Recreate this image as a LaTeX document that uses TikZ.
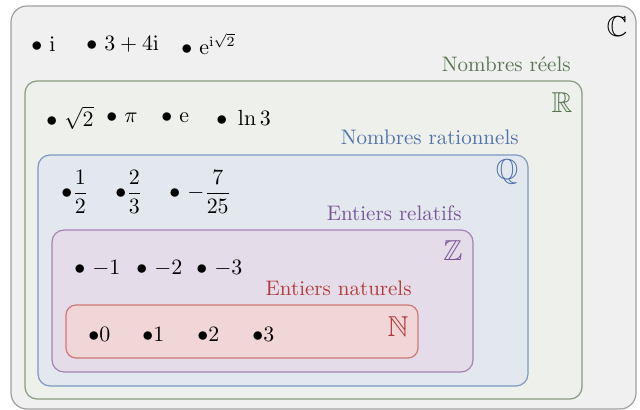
\documentclass[tikz,border=0pt]{standalone}
\usepackage{amsmath,amssymb}
\definecolor{cfill}{HTML}{F0F0F0}\definecolor{cdraw}{HTML}{A0A0A0}
\definecolor{rfill}{HTML}{EEF0EC}\definecolor{rdraw}{HTML}{8A9A80}\definecolor{rtext}{HTML}{5B7553}
\definecolor{qfill}{HTML}{E3E8EF}\definecolor{qdraw}{HTML}{7D98C0}\definecolor{qtext}{HTML}{4F72A8}
\definecolor{zfill}{HTML}{E4DCE8}\definecolor{zdraw}{HTML}{A583B5}\definecolor{ztext}{HTML}{7A5596}
\definecolor{nfill}{HTML}{F0D6D6}\definecolor{ndraw}{HTML}{D07878}\definecolor{ntext}{HTML}{B33A3A}
\begin{document}
\begin{tikzpicture}[x=0.5pt,y=-0.5pt,
  setbox/.style={line width=0.6pt},
  item/.style={anchor=west,inner sep=0pt,font=\fontsize{10.5}{12}\selectfont},
  setlabel/.style={anchor=east,inner sep=0pt,font=\fontsize{10.5}{12}\selectfont},
  setsym/.style={inner sep=0pt,font=\Large}]
\useasboundingbox (0,0) rectangle (640,410);
\path[setbox,fill=cfill,draw=cdraw,rounded corners=8pt] (11,6) rectangle (636,409);
\path[setbox,fill=rfill,draw=rdraw,rounded corners=6pt] (25,81) rectangle (582,399);
\path[setbox,fill=qfill,draw=qdraw,rounded corners=6pt] (38,155) rectangle (528,386);
\path[setbox,fill=zfill,draw=zdraw,rounded corners=6pt] (52,230) rectangle (473,372);
\path[setbox,fill=nfill,draw=ndraw,rounded corners=5pt] (66,305) rectangle (418,358);
% symbols
\node[setsym] (symC) at (617,27) {$\mathbb{C}$};
\node[setsym,text=rtext] (symR) at (562,103) {$\mathbb{R}$};
\node[setsym,text=qtext] (symQ) at (507,172) {$\mathbb{Q}$};
\node[setsym,text=ztext] (symZ) at (453,251) {$\mathbb{Z}$};
\node[setsym,text=ntext] (symN) at (398,327) {$\mathbb{N}$};
% labels
\node[setlabel,text=rtext] (labR) at (571,64) {Nombres réels};
\node[setlabel,text=qtext] (labQ) at (519,137) {Nombres rationnels};
\node[setlabel,text=ztext] (labZ) at (462,213) {Entiers relatifs};
\node[setlabel,text=ntext] (labN) at (412,288) {Entiers naturels};
% C items
\node[item] (c1) at (31,44) {$\bullet\ \mathrm{i}$};
\node[item] (c2) at (86,44) {$\bullet\ 3+4\mathrm{i}$};
\node[item] (c3) at (181,44) {$\bullet\ \mathrm{e}^{\mathrm{i}\sqrt{2}}$};
% R items
\node[item] (r1) at (46,118) {$\bullet\ \sqrt{2}$};
\node[item] (r2) at (106,118) {$\bullet\ \pi$};
\node[item] (r3) at (161,118) {$\bullet\ \mathrm{e}$};
\node[item] (r4) at (216,118) {$\bullet\ \ln 3$};
% Q items
\node[item] (q1) at (61,192) {$\bullet\dfrac{1}{2}$};
\node[item] (q2) at (115,192) {$\bullet\dfrac{2}{3}$};
\node[item] (q3) at (169,192) {$\bullet\ {-}\dfrac{7}{25}$};
% Z items
\node[item] (z1) at (74,268) {$\bullet\ {-1}$};
\node[item] (z2) at (136,268) {$\bullet\ {-2}$};
\node[item] (z3) at (196,268) {$\bullet\ {-3}$};
% N items
\node[item] (n1) at (88,334) {$\bullet 0$};
\node[item] (n2) at (142,334) {$\bullet 1$};
\node[item] (n3) at (197,334) {$\bullet 2$};
\node[item] (n4) at (252,334) {$\bullet 3$};
\end{tikzpicture}
\end{document}
